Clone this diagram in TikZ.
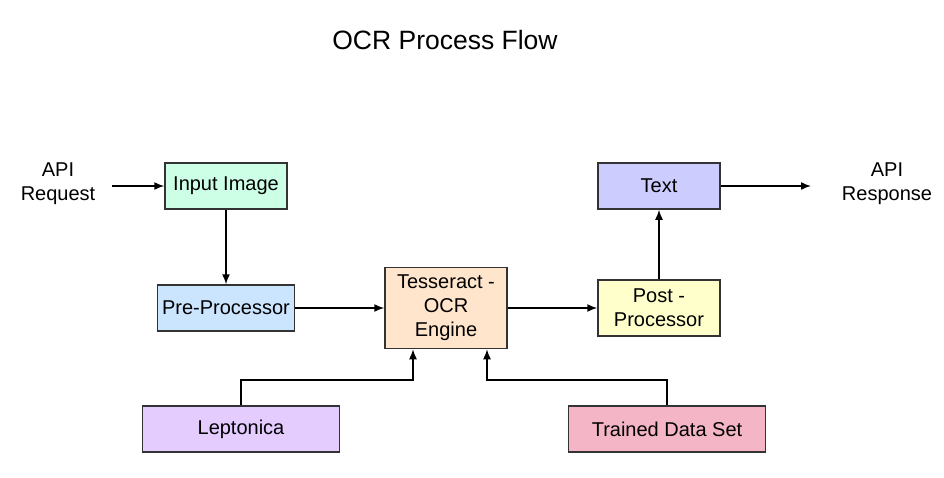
\documentclass[tikz,border=0pt]{standalone}
\usepackage{fontspec}
\setmainfont{Liberation Sans}
\usetikzlibrary{arrows.meta}
\definecolor{cmint}{RGB}{204,255,230}
\definecolor{cblue}{RGB}{204,229,255}
\definecolor{cpeach}{RGB}{255,229,204}
\definecolor{cyellow}{RGB}{255,255,204}
\definecolor{clav}{RGB}{204,204,255}
\definecolor{cpurple}{RGB}{228,204,255}
\definecolor{cpink}{RGB}{244,182,198}
\definecolor{cline}{RGB}{51,51,51}
\begin{document}
\begin{tikzpicture}[x=1pt,y=-1pt,
  box/.style={draw=cline,line width=1.5pt,minimum width=122pt,minimum height=46pt,inner sep=0pt,align=center,font=\fontsize{20}{24}\selectfont},
  lbl/.style={align=center,font=\fontsize{20}{24}\selectfont},
  arr/.style={draw=black,line width=1.5pt,-{Latex[length=10pt,width=8pt]}},
  ln/.style={draw=cline,line width=1.5pt}]
\useasboundingbox (0,0) rectangle (944,477);
\node[font=\fontsize{26.5}{30}\selectfont] (title) at (445,40) {OCR Process Flow};
\node[box,fill=cmint] (inp) at (226,186) {Input Image};
\node[box,fill=cblue,minimum width=137pt] (pre) at (226,308) {Pre-Processor};
\node[box,fill=cpeach,minimum height=81pt] (tes) at (446,308) {Tesseract -\\OCR\\Engine};
\node[box,fill=cyellow,minimum height=56pt] (post) at (659,308) {Post -\\Processor};
\node[box,fill=clav] (txt) at (659,186) {Text};
\node[box,fill=cpurple,minimum width=197pt] (lep) at (241,429) {Leptonica};
\node[box,fill=cpink,minimum width=197pt] (tds) at (667,429) {Trained Data Set};
\node[lbl] (req) at (58,184) {API\\Request};
\node[lbl] (resp) at (887,184) {API\\Response};
\coordinate (reqend) at (112,186);
\coordinate (respend) at (811,186);
\draw[arr] (reqend) -- (inp.west);
\draw[arr] (inp.south) -- (inp.south |- pre.north);
\draw[arr] (pre.east) -- (pre.east -| tes.west);
\draw[arr] (tes.east) -- (tes.east -| post.west);
\draw[arr] (post.north) -- (txt.south);
\draw[arr] (txt.east) -- (respend);
\coordinate (lj) at (413,380);
\coordinate (tj) at (487,380);
\draw[arr] (lep.north) |- (lj) -- (lj |- tes.south);
\draw[arr] (tds.north) |- (tj) -- (tj |- tes.south);
\end{tikzpicture}
\end{document}
